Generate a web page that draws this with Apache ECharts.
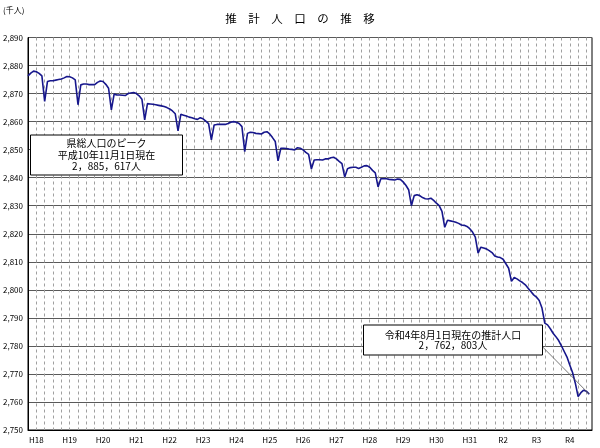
<!DOCTYPE html>
<html>
<head>
<meta charset="utf-8">
<script src="https://cdn.jsdelivr.net/npm/echarts@6/dist/echarts.min.js"></script>
<style>
html,body{margin:0;padding:0;background:#fff;}
#main{width:600px;height:448px;}
</style>
</head>
<body>
<div id="main"></div>
<script>
// Year labels (January of each year)
const yearLabels = ['H18','H19','H20','H21','H22','H23','H24','H25','H26','H27','H28','H29','H30','H31','R2','R3','R4'];
// Monthly estimated population (thousand people), from Oct 2005
const v2005 = [2876.3, 2877.3, 2878.0, 2877.8, 2877.2, 2876.3];
const fy2006 = [2867.2, 2874.3, 2874.6, 2874.6, 2874.8, 2875.0, 2875.2, 2875.6, 2876.1, 2876.0, 2875.6, 2874.9];
const fy2007 = [2866.0, 2873.1, 2873.4, 2873.4, 2873.2, 2873.2, 2873.2, 2874.0, 2874.5, 2874.3, 2873.3, 2871.9];
const fy2008 = [2864.2, 2869.8, 2869.5, 2869.5, 2869.4, 2869.3, 2870.0, 2870.2, 2870.4, 2870.0, 2869.2, 2868.0];
const fy2009 = [2860.6, 2866.4, 2866.3, 2866.2, 2866.0, 2865.8, 2865.6, 2865.4, 2865.0, 2864.5, 2863.8, 2862.8];
const fy2010 = [2856.7, 2862.6, 2862.3, 2862.0, 2861.6, 2861.4, 2861.0, 2860.8, 2861.4, 2861.0, 2860.2, 2859.3];
const fy2011 = [2853.5, 2858.8, 2859.0, 2859.0, 2859.0, 2859.0, 2859.3, 2859.8, 2860.0, 2859.8, 2859.3, 2858.2];
const fy2012 = [2849.3, 2855.8, 2856.2, 2856.1, 2855.8, 2855.7, 2855.6, 2856.2, 2856.4, 2855.6, 2854.3, 2852.9];
const fy2013 = [2846.0, 2850.5, 2850.5, 2850.4, 2850.2, 2850.1, 2849.9, 2850.7, 2850.5, 2849.9, 2849.0, 2848.3];
const fy2014 = [2843.1, 2846.3, 2846.4, 2846.4, 2846.3, 2846.7, 2846.7, 2847.1, 2847.3, 2846.7, 2845.8, 2845.0];
const fy2015 = [2840.2, 2843.2, 2843.6, 2843.7, 2843.7, 2843.3, 2843.7, 2844.2, 2844.3, 2843.7, 2842.6, 2841.7];
const fy2016 = [2836.7, 2839.6, 2839.6, 2839.6, 2839.4, 2839.3, 2839.2, 2839.5, 2839.4, 2838.5, 2837.3, 2835.7];
const fy2017 = [2830.0, 2833.6, 2833.9, 2833.6, 2832.9, 2832.5, 2832.4, 2832.7, 2831.9, 2830.9, 2830.0, 2828.0];
const fy2018 = [2822.3, 2824.8, 2824.6, 2824.4, 2824.1, 2823.7, 2823.1, 2823.0, 2822.6, 2821.8, 2820.6, 2818.8];
const fy2019 = [2813.1, 2815.2, 2814.9, 2814.6, 2814.0, 2813.3, 2812.1, 2811.7, 2811.5, 2810.9, 2809.3, 2807.7];
const fy2020 = [2803.0, 2804.4, 2803.9, 2803.2, 2802.6, 2801.8, 2800.6, 2799.4, 2798.2, 2797.4, 2796.2, 2793.5];
const fy2021 = [2788.1, 2787.5, 2786.1, 2784.5, 2783.3, 2781.9, 2780.0, 2778.0, 2776.0, 2773.2, 2770.5, 2766.7];
const fy2022 = [2761.9, 2763.3, 2764.2, 2763.8, 2762.8];
const yTicks = {min: 2750, max: 2890, interval: 10};

const values = [].concat(v2005, fy2006, fy2007, fy2008, fy2009, fy2010, fy2011, fy2012, fy2013,
  fy2014, fy2015, fy2016, fy2017, fy2018, fy2019, fy2020, fy2021, fy2022);

// categories: Oct 2005 .. Sep 2022
const categories = [];
for (let i = 0; i < values.length + 1; i++) {
  const m = (9 + i) % 12 + 1;
  const y = 2005 + Math.floor((9 + i) / 12);
  categories.push(y + '/' + m);
}

const FONT = '"Noto Sans CJK JP", sans-serif';
const chart = echarts.init(document.getElementById('main'));
chart.setOption({
  animation: false,
  backgroundColor: '#fff',
  title: {
    text: '推　計　人　口　の　推　移',
    left: 'center', top: 8,
    textStyle: {fontFamily: FONT, fontSize: 11.5, fontWeight: 'normal', color: '#000'}
  },
  grid: {left: 28, right: 8, top: 37.5, bottom: 18, show: true, borderColor: '#000', borderWidth: 1, containLabel: false},
  xAxis: {
    type: 'category',
    boundaryGap: false,
    data: categories,
    axisLine: {lineStyle: {color: '#000', width: 1}},
    axisTick: {show: false},
    axisLabel: {
      interval: function (idx, val) { return val.split('/')[1] === '1'; },
      formatter: function (val) {
        const p = val.split('/');
        return yearLabels[parseInt(p[0], 10) - 2006] || '';
      },
      fontFamily: FONT, fontSize: 8, color: '#000', margin: 6
    },
    splitLine: {
      show: true,
      interval: function (idx) { return idx % 3 === 0 && idx > 0; },
      lineStyle: {color: '#a0a0a0', width: 1, type: [3, 3]}
    }
  },
  yAxis: {
    type: 'value',
    min: yTicks.min, max: yTicks.max, interval: yTicks.interval,
    axisLine: {show: true, lineStyle: {color: '#000', width: 1}},
    axisTick: {show: false},
    axisLabel: {
      formatter: function (v) { return v.toLocaleString('en-US'); },
      fontFamily: FONT, fontSize: 8, color: '#000', margin: 5
    },
    splitLine: {show: true, lineStyle: {color: '#5a5a5a', width: 1}}
  },
  series: [{
    type: 'line',
    data: values,
    symbol: 'none',
    lineStyle: {color: '#17178c', width: 1.6},
    z: 5
  }]
});

const endPt = chart.convertToPixel({xAxisIndex: 0, yAxisIndex: 0}, [values.length - 1, values[values.length - 1]]);

chart.setOption({
  graphic: [
    {type: 'text', left: 3, top: 6, style: {text: '(千人)', font: '8px ' + FONT, fill: '#000'}},
    {type: 'rect', shape: {x: 30.5, y: 135, width: 152, height: 40}, style: {fill: '#fff', stroke: '#000', lineWidth: 1}, z: 10},
    {type: 'text', x: 106.5, y: 155, z: 11,
      style: {text: '県総人口のピーク\n平成10年11月1日現在\n2，885，617人', font: '10px ' + FONT, fill: '#000',
        align: 'center', verticalAlign: 'middle', lineHeight: 11.7}},
    {type: 'line', shape: {x1: 542.7, y1: 347, x2: endPt[0], y2: endPt[1]}, style: {stroke: '#555', lineWidth: 0.8}, z: 9},
    {type: 'rect', shape: {x: 363.5, y: 325, width: 179, height: 30}, style: {fill: '#fff', stroke: '#000', lineWidth: 1}, z: 10},
    {type: 'text', x: 453, y: 340, z: 11,
      style: {text: '令和4年8月1日現在の推計人口\n2，762，803人', font: '10px ' + FONT, fill: '#000',
        align: 'center', verticalAlign: 'middle', lineHeight: 10.5}}
  ]
});
</script>
</body>
</html>
